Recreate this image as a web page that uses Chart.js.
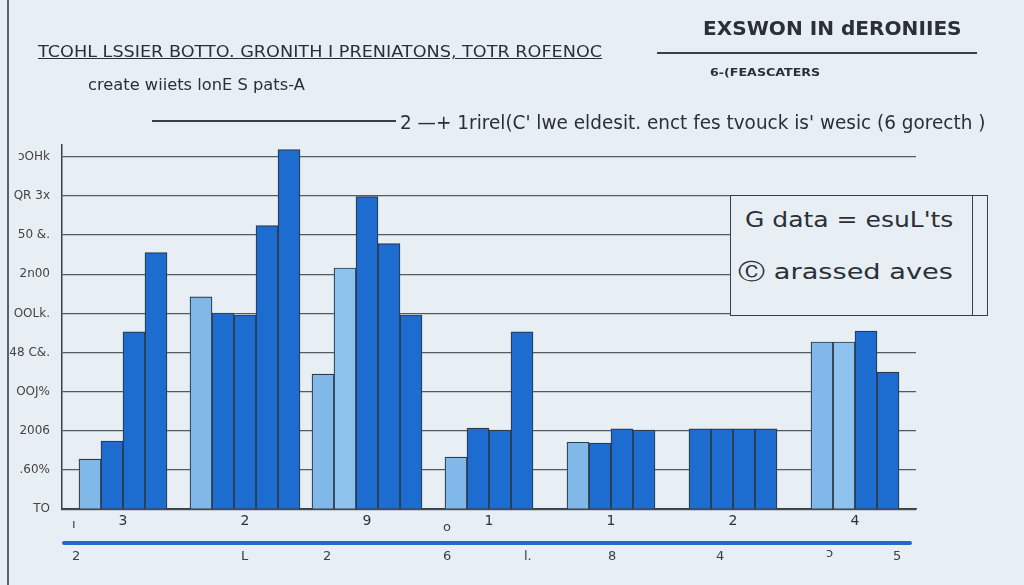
<!DOCTYPE html>
<html>
<head>
<meta charset="utf-8">
<script src="https://cdn.jsdelivr.net/npm/chart.js@4.4.0/dist/chart.umd.min.js"></script>
<style>
  html, body { margin: 0; padding: 0; }
  body { width: 1024px; height: 585px; background: #e7eef4; position: relative; overflow: hidden; font-family: "DejaVu Sans", sans-serif; color: #2b2f36; }
  #wrap { position: absolute; left: 0; top: 0; width: 1024px; height: 585px; }
  .txt { position: absolute; white-space: nowrap; transform-origin: left center; line-height: 1; }
  .line { position: absolute; background: #3a3e45; }
  .frame { position: absolute; left: 7px; top: 0; width: 2px; height: 585px; background: #5c6068; }
  .legend-box { position: absolute; left: 730px; top: 195px; width: 256px; height: 119px; border: 1.5px solid #3a3e45; background: #e7eef4; }
  .legend-box .inner { position: absolute; right: 14px; top: 0; width: 1.5px; height: 100%; background: #3a3e45; }
  .blue-rule { position: absolute; left: 62px; top: 541px; width: 850px; height: 4px; border-radius: 2px; background: #1f6bc9; }
  .low { font-size: 13px; color: #3a3e45; }
</style>
</head>
<body>
<div class="frame"></div>
<div id="wrap"><canvas id="chart" width="1024" height="585"></canvas></div>

<div class="txt" data-w="564" style="left:38px; top:44px; font-size:16px; text-decoration:underline;">TCOHL LSSIER BOTTO. GRONITH I PRENIATONS, TOTR ROFENOC</div>
<div class="txt" data-w="217" style="left:88px; top:78px; font-size:15px;">create wiiets lonE S pats-A</div>
<div class="line" style="left:152px; top:120px; width:244px; height:1.5px;"></div>
<div class="txt" data-w="585" style="left:400px; top:113px; font-size:19px;">2 —+ 1rirel(C' lwe eldesit. enct fes tvouck is' wesic (6 gorecth )</div>
<div class="txt" data-w="259" style="left:703px; top:19px; font-size:19px; font-weight:bold;">EXSWON IN dERONIIES</div>
<div class="line" style="left:657px; top:52px; width:320px; height:1.5px;"></div>
<div class="txt" data-w="110" style="left:710px; top:68px; font-size:10px; font-weight:bold;">6-(FEASCATERS</div>

<div class="legend-box"><div class="inner"></div></div>
<div class="txt" data-w="208" style="left:745px; top:209px; font-size:22px;">G data = esuL'ts</div>
<div class="txt" data-w="215" style="left:738px; top:261px; font-size:22px;">Ⓒ arassed aves</div>

<div class="blue-rule"></div>
<div class="txt low" style="left:72px; top:517px;">ı</div>
<div class="txt low" style="left:443px; top:520px;">o</div>
<div class="txt low" style="left:72px; top:549px;">2</div>
<div class="txt low" style="left:241px; top:549px;">L</div>
<div class="txt low" style="left:323px; top:549px;">2</div>
<div class="txt low" style="left:443px; top:549px;">6</div>
<div class="txt low" style="left:524px; top:549px;">l.</div>
<div class="txt low" style="left:608px; top:549px;">8</div>
<div class="txt low" style="left:716px; top:549px;">4</div>
<div class="txt low" style="left:826px; top:546px;">ɔ</div>
<div class="txt low" style="left:893px; top:549px;">5</div>

<script>
const groups = ['3', '2', '9', '1', '1', '2', '4'];
const yTickLabels = ['TO', '.60%', '2006', 'OOJ%', '48 C&.', 'OOLk.', '2n00', '50 &.', 'QR 3x', 'ɔOHk'];

// six series, null = no bar in that group
const lightA = [1.28, 5.42, 3.45, 1.33, 1.71, null, 4.27];
const lightB = [null, null, 6.16, null, null, null, 4.27];
const darkC = [1.74, 5.01, 7.98, 2.07, 1.69, 2.05, 4.55];
const darkD = [4.53, 4.96, 6.78, 2.02, 2.05, 2.05, 3.5];
const darkE = [6.55, 7.24, 4.96, 4.53, 2.02, 2.05, null];
const darkF = [null, 9.18, null, null, null, 2.05, null];

const LIGHT = '#80b8ea';
const DARK = '#1d6cd0';

function barSet(label, data, color) {
  return {
    label,
    data,
    backgroundColor: color,
    borderColor: '#2c3a4a',
    borderWidth: 1.2,
    borderSkipped: 'bottom',
    barThickness: 22,
    skipNull: true
  };
}

new Chart(document.getElementById('chart'), {
  type: 'bar',
  data: {
    labels: groups,
    datasets: [
      barSet('A', lightA, LIGHT),
      barSet('B', lightB, '#8ec2ef'),
      barSet('C', darkC, DARK),
      barSet('D', darkD, DARK),
      barSet('E', darkE, DARK),
      barSet('F', darkF, DARK)
    ]
  },
  options: {
    responsive: false,
    animation: false,
    devicePixelRatio: 1,
    layout: { padding: { left: 7, right: 108, top: 145, bottom: 51 } },
    plugins: { legend: { display: false }, tooltip: { enabled: false } },
    scales: {
      x: {
        grid: { display: false, drawTicks: false },
        border: { color: '#3a3e45', width: 1.5 },
        ticks: { color: '#333', font: { family: 'DejaVu Sans', size: 14 }, padding: 4 }
      },
      y: {
        min: 0,
        max: 9.3,
        afterFit(scale) { scale.width = 55; },
        grid: { color: '#555a62', lineWidth: 1.3, drawTicks: false },
        border: { color: '#3a3e45', width: 1.5 },
        ticks: {
          stepSize: 1,
          includeBounds: false,
          padding: 12,
          color: '#444',
          font: { family: 'DejaVu Sans', size: 12 },
          callback: v => yTickLabels[v]
        }
      }
    }
  }
});

document.querySelectorAll('.txt[data-w]').forEach(el => {
  const w = parseFloat(el.dataset.w);
  el.style.transform = `scaleX(${w / el.offsetWidth})`;
});
</script>
</body>
</html>
